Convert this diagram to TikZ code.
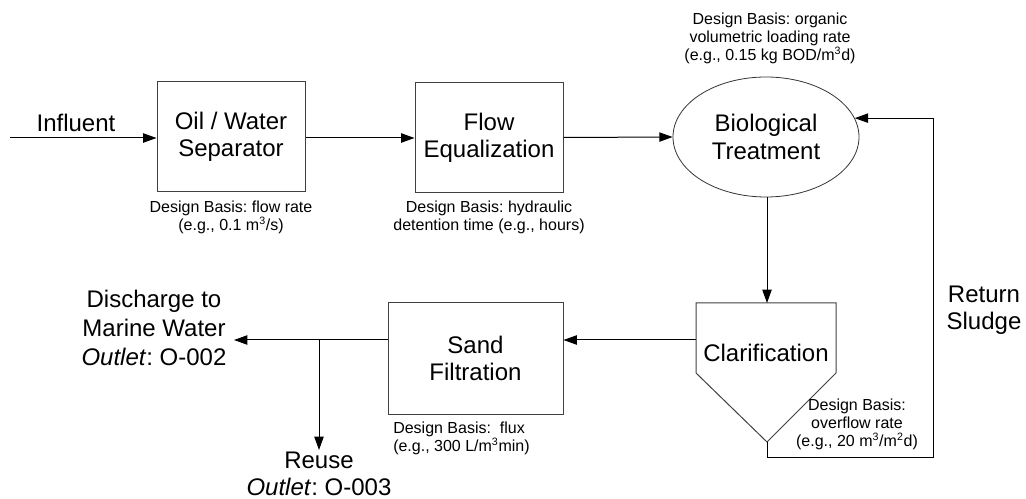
\documentclass[tikz,border=0pt]{standalone}
\usepackage{fontspec}
\setmainfont{Liberation Sans}
\usetikzlibrary{shapes.geometric,arrows.meta}
\frenchspacing
\begin{document}
\begin{tikzpicture}[x=0.75pt,y=-0.75pt,
  big/.style={font=\fontsize{18}{20.5}\selectfont,align=center,inner sep=0pt},
  small/.style={font=\fontsize{12}{13.6}\selectfont,align=center,inner sep=0pt},
  procbox/.style={draw=black!75,line width=0.75pt,big,minimum width=111pt,minimum height=82.5pt},
  arr/.style={line width=0.75pt,-{Triangle[length=10pt,width=7pt]}},
  ln/.style={line width=0.75pt}]
\useasboundingbox (0,0) rectangle (1026,499);
% process nodes
\node[procbox] (ow) at (231,137) {Oil / Water\\Separator};
\node[procbox] (fe) at (489,137.5) {Flow\\Equalization};
\node[ellipse,draw=black!80,line width=0.6pt,big,minimum width=139.5pt,minimum height=90pt,inner sep=0pt] (bio) at (766,137) {Biological\\Treatment};
\node[procbox,minimum width=131.25pt,minimum height=83.25pt] (sand) at (475.5,358.5) {Sand\\Filtration};
% clarifier pentagon
\coordinate (c1) at (696,303);
\coordinate (c2) at (836,303);
\coordinate (c3) at (836,373);
\coordinate (c4) at (767,442);
\coordinate (c5) at (696,373);
\draw[draw=black!75,line width=0.75pt] (c1) -- (c2) -- (c3) -- (c4) -- (c5) -- cycle;
\node[big] (clar) at (766,353) {Clarification};
\coordinate (ctop) at (767,303);
\coordinate (cleft) at (696,340);
% labels
\node[big] (infl) at (76,123) {Influent};
\coordinate (inflstart) at (10,138);
\node[small] (dbow) at (231,217) {Design Basis: flow rate\\(e.g., 0.1 m\textsuperscript{3}/s)};
\node[small] (dbfe) at (489,217) {Design Basis: hydraulic\\detention time (e.g., hours)};
\node[small] (dbbio) at (770,38) {Design Basis: organic\\volumetric loading rate\\(e.g., 0.15 kg BOD/m\textsuperscript{3}d)};
\node[small,align=left,anchor=west] (dbsand) at (393,438.5) {Design Basis:\ \ flux\\(e.g., 300 L/m\textsuperscript{3}min)};
\node[small] (dbclar) at (857,424) {Design Basis:\\overflow rate\\(e.g., 20 m\textsuperscript{3}/m\textsuperscript{2}d)};
\node[big] (ret) at (984,310) {Return\\Sludge};
\node[big,font=\fontsize{18}{22}\selectfont] (dis) at (154,328) {Discharge to\\Marine Water\\\textit{Outlet}: O-002};
\node[big] (reuse) at (319,474) {Reuse\\\textit{Outlet}: O-003};
% connectors
\draw[arr] (inflstart) -- (ow.west |- inflstart);
\draw[arr] (ow.east |- inflstart) -- (fe.west |- inflstart);
\draw[arr] (fe.east) -- (bio.west);
\draw[arr] (bio.south -| ctop) -- (ctop);
\draw[arr] (cleft) -- (sand.east |- cleft);
\coordinate (distip) at (234,340);
\coordinate (br) at (319,340);
\coordinate (reusetip) at (319,450);
\draw[arr] (sand.west |- cleft) -- (distip);
\draw[arr] (br) -- (reusetip);
\coordinate (r1) at (767,457);
\coordinate (r2) at (933,457);
\draw[arr] (c4) -- (r1) -- (r2) |- (bio.12);
\end{tikzpicture}
\end{document}
